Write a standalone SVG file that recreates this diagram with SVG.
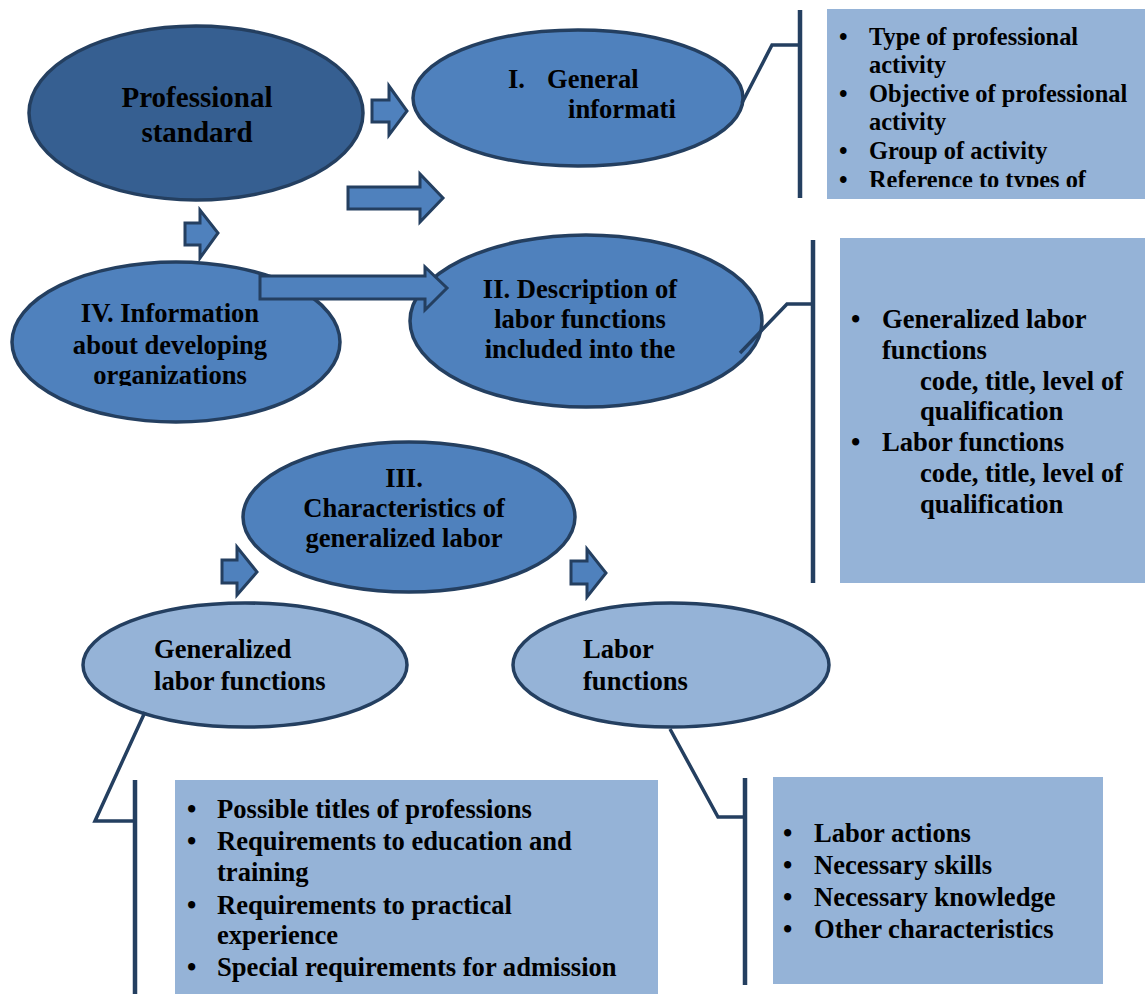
<svg xmlns="http://www.w3.org/2000/svg" width="1145" height="994" viewBox="0 0 1145 994">
<style>
.t{font-family:"Liberation Serif","Times New Roman",serif;font-weight:bold;fill:#000}
.s24{font-size:24.4px}.s26{font-size:26.6px}.s29{font-size:29px}
.dk{fill:#365F91;stroke:#243F60;stroke-width:3.5}
.md{fill:#4F81BD;stroke:#243F60;stroke-width:3.5}
.lt{fill:#95B3D7;stroke:#243F60;stroke-width:3.5}
.box{fill:#95B3D7}
.arr{fill:#4F81BD;stroke:#243F60;stroke-width:3;stroke-linejoin:miter}
.cl{fill:none;stroke:#243F60;stroke-width:3.5}
.bar{fill:none;stroke:#243F60;stroke-width:4.5}
</style>
<defs>
<clipPath id="clipIV"><rect x="0" y="250" width="400" height="136"/></clipPath>
<clipPath id="clipB1"><rect x="827" y="9" width="318" height="178"/></clipPath>
</defs>
<rect width="1145" height="994" fill="#fff"/>
<g id="node-professional-standard">
<ellipse class="dk" cx="196" cy="113" rx="167" ry="87"/>
<text class="t s29" x="197" y="107" text-anchor="middle">Professional</text>
<text class="t s29" x="197" y="142" text-anchor="middle">standard</text>
</g>
<g id="node-general-information">
<ellipse class="md" cx="578" cy="98" rx="165" ry="68"/>
<text class="t s26" x="508" y="88">I.</text>
<text class="t s26" x="547" y="88">General</text>
<text class="t s26" x="568" y="118">informati</text>
</g>
<g id="node-information-developing">
<ellipse class="md" cx="176" cy="342" rx="164" ry="80"/>
<g clip-path="url(#clipIV)">
<text class="t s26" x="170" y="322" text-anchor="middle">IV. Information</text>
<text class="t s26" x="170" y="354" text-anchor="middle">about developing</text>
<text class="t s26" x="170" y="384" text-anchor="middle">organizations</text>
</g>
</g>
<g id="node-description">
<ellipse class="md" cx="586" cy="321" rx="176" ry="86"/>
<text class="t s26" x="580" y="298" text-anchor="middle">II. Description of</text>
<text class="t s26" x="580" y="328" text-anchor="middle">labor functions</text>
<text class="t s26" x="580" y="358" text-anchor="middle">included into the</text>
</g>
<g id="node-characteristics">
<ellipse class="md" cx="409" cy="517" rx="166" ry="75"/>
<text class="t s26" x="404" y="487" text-anchor="middle">III.</text>
<text class="t s26" x="404" y="517" text-anchor="middle">Characteristics of</text>
<text class="t s26" x="404" y="547" text-anchor="middle">generalized labor</text>
</g>
<g id="node-generalized-labor-functions">
<ellipse class="lt" cx="245" cy="665" rx="162" ry="62"/>
<text class="t s26" x="154" y="658">Generalized</text>
<text class="t s26" x="154" y="690">labor functions</text>
</g>
<g id="node-labor-functions">
<ellipse class="lt" cx="671" cy="665" rx="158" ry="62"/>
<text class="t s26" x="583" y="658">Labor</text>
<text class="t s26" x="583" y="690">functions</text>
</g>
<g id="box-general-info">
<rect class="box" x="827" y="9" width="318" height="190"/>
<g clip-path="url(#clipB1)">
<text class="t s24" x="839" y="45">•</text><text class="t s24" x="869" y="45">Type of professional</text>
<text class="t s24" x="869" y="73">activity</text>
<text class="t s24" x="839" y="102">•</text><text class="t s24" x="869" y="102">Objective of professional</text>
<text class="t s24" x="869" y="130">activity</text>
<text class="t s24" x="839" y="159">•</text><text class="t s24" x="869" y="159">Group of activity</text>
<text class="t s24" x="839" y="188">•</text><text class="t s24" x="869" y="188">Reference to types of</text>
</g>
</g>
<g id="box-description">
<rect class="box" x="840" y="238" width="305" height="345"/>
<text class="t s26" x="851" y="328">•</text><text class="t s26" x="882" y="328">Generalized labor</text>
<text class="t s26" x="882" y="359">functions</text>
<text class="t s26" x="920" y="390">code, title, level of</text>
<text class="t s26" x="920" y="420">qualification</text>
<text class="t s26" x="851" y="451">•</text><text class="t s26" x="882" y="451">Labor functions</text>
<text class="t s26" x="920" y="482">code, title, level of</text>
<text class="t s26" x="920" y="513">qualification</text>
</g>
<g id="box-generalized">
<rect class="box" x="175" y="780" width="483" height="214"/>
<text class="t s26" x="187" y="818">•</text><text class="t s26" x="217" y="818">Possible titles of professions</text>
<text class="t s26" x="187" y="850">•</text><text class="t s26" x="217" y="850">Requirements to education and</text>
<text class="t s26" x="217" y="881">training</text>
<text class="t s26" x="187" y="914">•</text><text class="t s26" x="217" y="914">Requirements to practical</text>
<text class="t s26" x="217" y="944">experience</text>
<text class="t s26" x="187" y="976">•</text><text class="t s26" x="217" y="976">Special requirements for admission</text>
</g>
<g id="box-labor">
<rect class="box" x="773" y="777" width="330" height="207"/>
<text class="t s26" x="783" y="842">•</text><text class="t s26" x="814" y="842">Labor actions</text>
<text class="t s26" x="783" y="874">•</text><text class="t s26" x="814" y="874">Necessary skills</text>
<text class="t s26" x="783" y="906">•</text><text class="t s26" x="814" y="906">Necessary knowledge</text>
<text class="t s26" x="783" y="938">•</text><text class="t s26" x="814" y="938">Other characteristics</text>
</g>
<g id="connectors">
<path class="arr" d="M372,100 H389 V86 L407,111 L389,135 V122 H372 Z"/>
<path class="arr" d="M348,187 H420 V174 L443,198 L420,222 V209 H348 Z"/>
<path class="arr" d="M185,223 H200 V210 L218,233 L200,258 V245 H185 Z"/>
<path class="arr" d="M260,276 H425 V267 L447,288 L425,310 V299 H260 Z"/>
<path class="arr" d="M222,560 H237 V547 L257,572 L237,595 V583 H222 Z"/>
<path class="arr" d="M571,561 H587 V549 L606,573 L587,597 V584 H571 Z"/>
<polyline class="cl" points="742,103 772,45 800,45"/>
<line class="bar" x1="800" y1="10" x2="800" y2="198"/>
<polyline class="cl" points="740,353 787,304 813,304"/>
<line class="bar" x1="813" y1="240" x2="813" y2="583"/>
<polyline class="cl" points="145,712 95,821 135,821"/>
<line class="bar" x1="135" y1="780" x2="135" y2="994"/>
<polyline class="cl" points="670,729 718,817 745,817"/>
<line class="bar" x1="745" y1="778" x2="745" y2="985"/>
</g>
</svg>
